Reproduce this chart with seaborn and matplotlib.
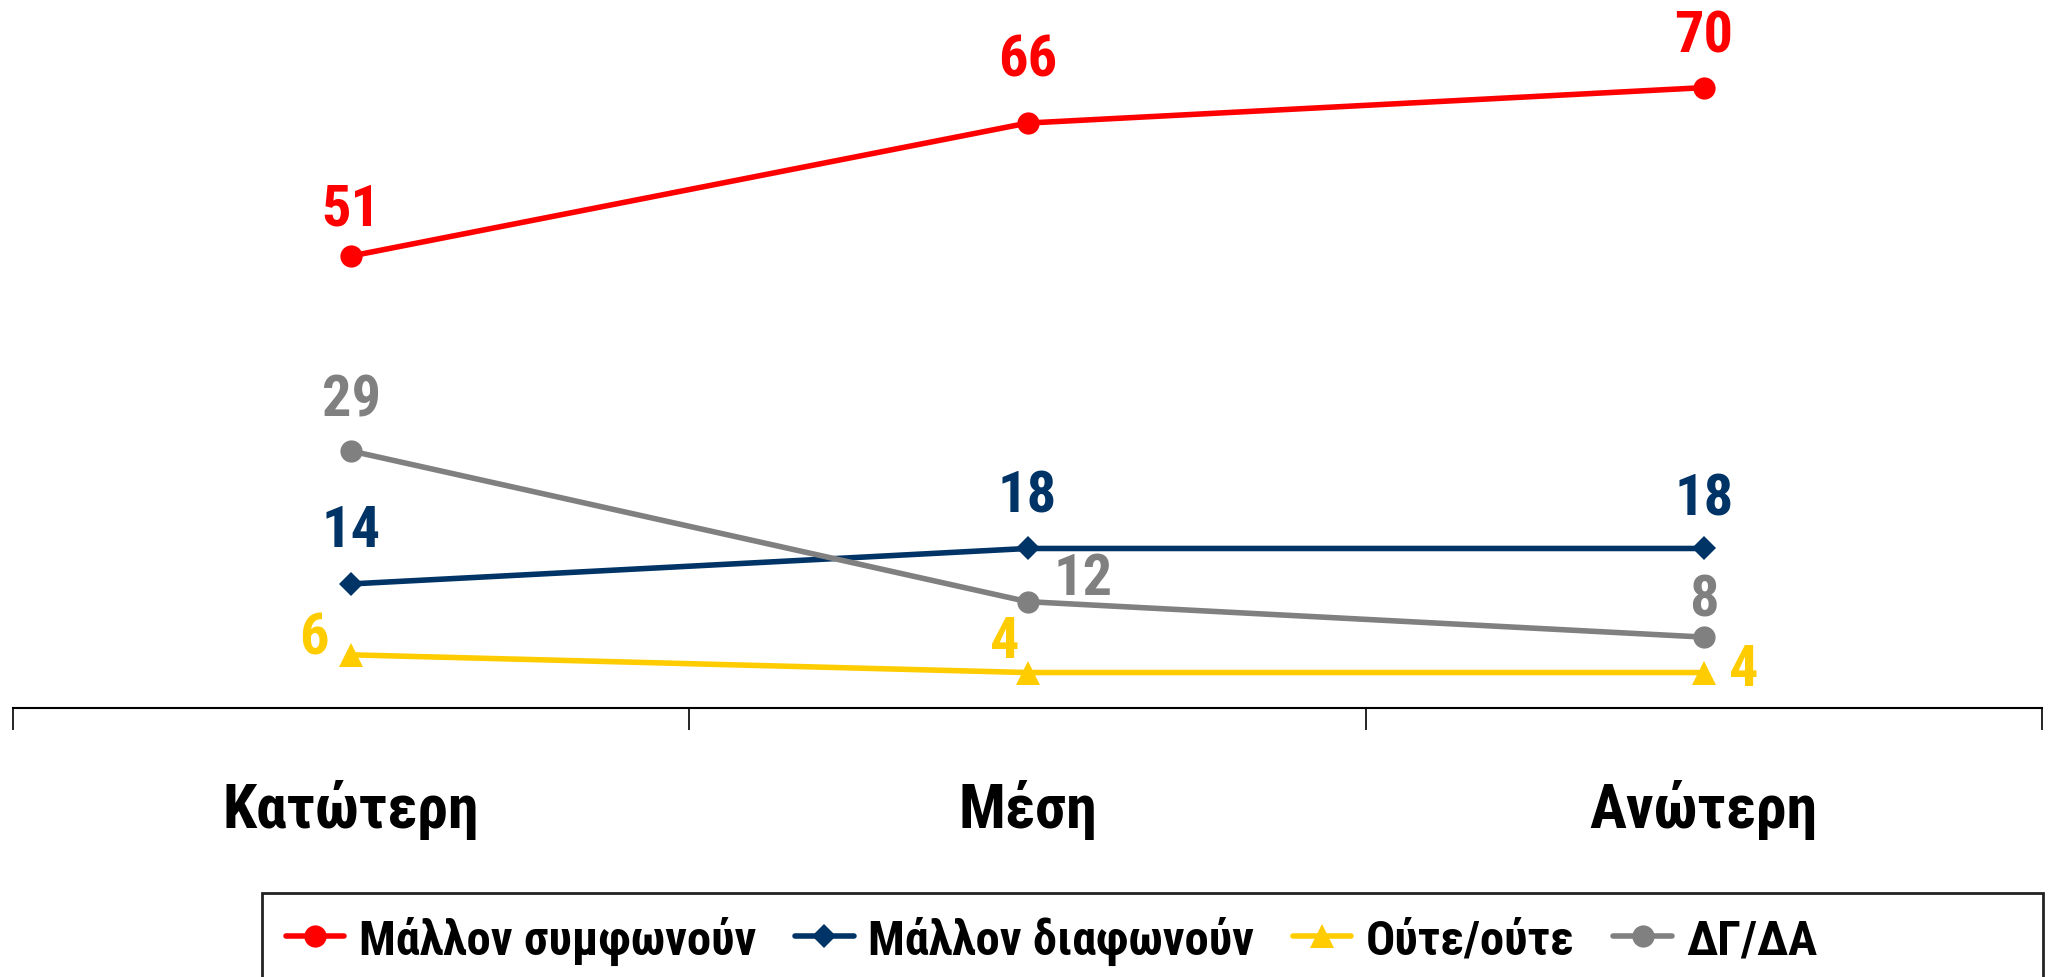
import seaborn as sns
import matplotlib.pyplot as plt
import pandas as pd
from matplotlib.lines import Line2D
from matplotlib.patches import Rectangle

# δεδομένα
levels = ["Κατώτερη", "Μέση", "Ανώτερη"]
series_names = ["Μάλλον συμφωνούν", "Μάλλον διαφωνούν", "Ούτε/ούτε", "ΔΓ/ΔΑ"]
agree = [51, 66, 70]
disagree = [14, 18, 18]
neither = [6, 4, 4]
dkna = [29, 12, 8]

colors = ["#FF0000", "#003366", "#FFCC00", "#808080"]
markers = ["o", "D", "^", "o"]
msizes = [16, 12, 17, 16]
# μετατόπιση ετικετών σε pixels (x, y)
label_offsets = [
    [(0, 47), (0, 63), (0, 52)],
    [(0, 53), (0, 52), (0, 49)],
    [(-37, 17), (-23, 31), (40, 3)],
    [(0, 51), (56, 23), (0, 37)],
]

sns.set_style("white")
plt.rcParams["font.family"] = ["Roboto Condensed", "DejaVu Sans"]
plt.rcParams["font.weight"] = "bold"

W, H = 2056, 978
fig = plt.figure(figsize=(W / 100, H / 100), dpi=100)
ax = fig.add_axes([13 / W, 1 - 709 / H, 2029 / W, 709 / H])

all_vals = [agree, disagree, neither, dkna]
for name, vals, c, m, ms, offs in zip(series_names, all_vals, colors, markers, msizes, label_offsets):
    df = pd.DataFrame({"level": levels, "value": vals})
    sns.lineplot(data=df, x="level", y="value", ax=ax, color=c, marker=m,
                 markersize=ms, markeredgewidth=0, linewidth=4, sort=False)
    for i, v in enumerate(vals):
        ax.annotate(str(v), (i, v), xytext=offs[i], textcoords="offset pixels",
                    ha="center", va="center", fontsize=42, fontweight="bold", color=c)
for ln in ax.lines:
    ln.set_linewidth(4)

ax.set_xlim(-0.5, 2.5)
ax.set_ylim(0, 80)
ax.set_xlabel("")
ax.set_ylabel("")
ax.set_yticks([])
for s in ["top", "right", "left"]:
    ax.spines[s].set_visible(False)
ax.spines["bottom"].set_color("black")
ax.spines["bottom"].set_linewidth(1.5)
ax.set_xticks([0, 1, 2])
ax.set_xticklabels(levels, fontsize=44.5, fontweight="bold", color="black")
ax.set_xticks([-0.5, 0.5, 1.5, 2.5], minor=True)
ax.tick_params(axis="x", which="major", bottom=True, length=0, pad=51)
ax.tick_params(axis="x", which="minor", bottom=True, length=16, width=1.2,
               color="black", direction="out")

handles = [Line2D([], [], color=c, marker=m, markersize=ms, markeredgewidth=0, linewidth=4)
           for c, m, ms in zip(colors, markers, msizes)]
leg = fig.legend(handles, series_names, loc="center left", bbox_to_anchor=(286 / W, 1 - 941 / H),
                 ncol=4, frameon=False, prop={"size": 35, "weight": "bold"},
                 handlelength=1.2, handletextpad=0.3, columnspacing=0.8,
                 borderaxespad=0, borderpad=0)
for t in leg.get_texts():
    t.set_color("black")
fig.patches.append(Rectangle((262 / W, -0.05), (2043 - 262) / W, 0.05 + (978 - 894) / H,
                             transform=fig.transFigure, fill=False, edgecolor="#222222", linewidth=2))

fig.savefig("out.png", dpi=100)
